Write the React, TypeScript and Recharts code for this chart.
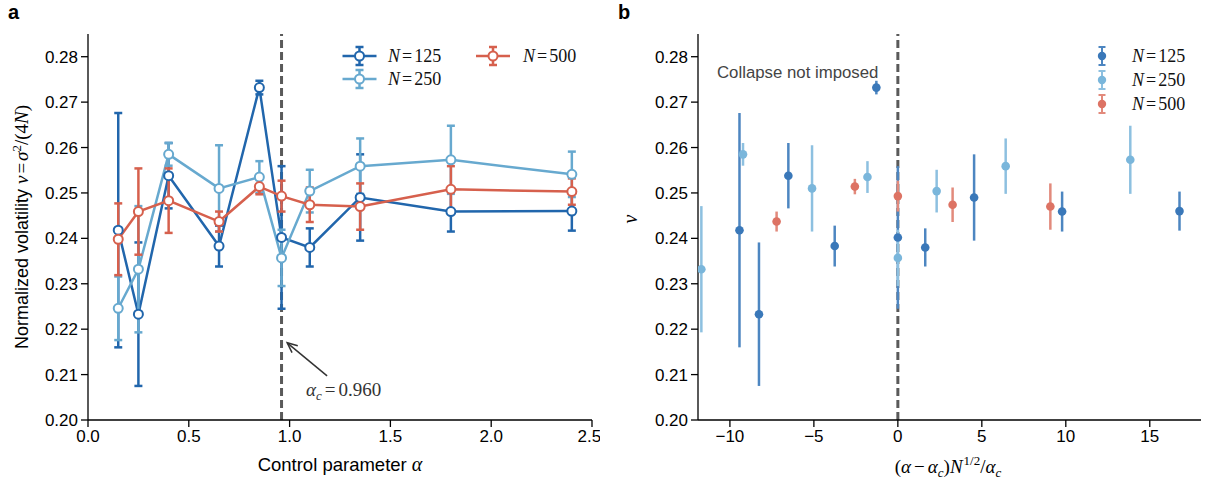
import React from 'react';
import {
  ComposedChart,
  ScatterChart,
  Line,
  Scatter,
  XAxis,
  YAxis,
  ErrorBar,
  ReferenceLine,
  Legend,
  Label,
} from 'recharts';

// ---------- data ----------
const alphaValues = [0.15, 0.25, 0.4, 0.65, 0.85, 0.96, 1.1, 1.35, 1.8, 2.4];

const nu125 = [0.2418, 0.2233, 0.2538, 0.2383, 0.2732, 0.2402, 0.238, 0.249, 0.2459, 0.246];
const err125 = [0.0258, 0.0158, 0.0072, 0.0045, 0.0015, 0.0157, 0.0042, 0.0095, 0.0044, 0.0043];

const nu250 = [0.2246, 0.2332, 0.2585, 0.251, 0.2535, 0.2357, 0.2504, 0.2559, 0.2573, 0.2541];
const err250 = [0.007, 0.0139, 0.0025, 0.0095, 0.0035, 0.0062, 0.0047, 0.0061, 0.0075, 0.005];

const nu500 = [0.2398, 0.2459, 0.2483, 0.2437, 0.2514, 0.2493, 0.2474, 0.247, 0.2508, 0.2503];
const err500 = [0.0079, 0.0095, 0.0071, 0.0022, 0.0017, 0.0034, 0.0038, 0.0051, 0.0051, 0.0029];

// collapse panel: scaled x positions and which alpha indices are visible
const collapseX125 = [-9.43, -8.27, -6.52, -3.76, -1.28, 0, 1.63, 4.54, 9.78, 16.77];
const collapseIdx125 = [0, 1, 2, 3, 4, 5, 6, 7, 8, 9];
const collapseX250 = [-11.7, -9.22, -5.11, -1.81, 0, 2.31, 6.42, 13.84];
const collapseIdx250 = [1, 2, 3, 4, 5, 6, 7, 8];
const collapseX500 = [-7.22, -2.56, 0, 3.26, 9.08];
const collapseIdx500 = [3, 4, 5, 6, 7];

const leftXTicks = [0, 0.5, 1, 1.5, 2, 2.5];
const yTicks = [0.2, 0.21, 0.22, 0.23, 0.24, 0.25, 0.26, 0.27, 0.28];
const rightXTicks = [-10, -5, 0, 5, 10, 15];
const alphaC = 0.96;

// ---------- styles ----------
const SANS = '"Liberation Sans", Arial, Helvetica, sans-serif';
const SERIF = '"Liberation Serif", "Times New Roman", serif';
const C125 = '#2166ac';
const C250 = '#67a9cf';
const C500 = '#d6604d';
const D125 = '#3a78b9';
const D250 = '#7ab6db';
const D500 = '#dd7364';
const B125 = '#4d86c1';
const B250 = '#8dc0e0';
const B500 = '#e28a7c';
const DASH = '#5a5a5a';

const leftData = alphaValues.map((alpha, i) => ({
  alpha,
  n125: nu125[i],
  e125: err125[i],
  n250: nu250[i],
  e250: err250[i],
  n500: nu500[i],
  e500: err500[i],
}));

const buildCollapse = (xs: number[], idx: number[], ys: number[], es: number[]) =>
  xs.map((x, i) => ({ x, y: ys[idx[i]], e: es[idx[i]] }));

const collapse125 = buildCollapse(collapseX125, collapseIdx125, nu125, err125);
const collapse250 = buildCollapse(collapseX250, collapseIdx250, nu250, err250);
const collapse500 = buildCollapse(collapseX500, collapseIdx500, nu500, err500);

const tickStyle = { fontSize: 17, fill: '#000', fontFamily: SANS };
const axisLineStyle = { stroke: '#000', strokeWidth: 1.3 };

const fmtMinus = (v: number) => (v < 0 ? '\u2212' + Math.abs(v) : String(v));

const NLabel = ({ x, y, n }: { x: number; y: number; n: string }) => (
  <text x={x} y={y} fontFamily={SERIF} fontSize={18} fill="#111">
    <tspan fontStyle="italic">N</tspan>
    <tspan dx={2}>=</tspan>
    <tspan dx={2}>{n}</tspan>
  </text>
);

const LineMarker = ({ cx, cy, color }: { cx: number; cy: number; color: string }) => (
  <g>
    <line x1={cx - 17} y1={cy} x2={cx + 17} y2={cy} stroke={color} strokeWidth={2.5} />
    <line x1={cx} y1={cy - 9} x2={cx} y2={cy + 9} stroke={color} strokeWidth={2.5} />
    <line x1={cx - 4} y1={cy - 9} x2={cx + 4} y2={cy - 9} stroke={color} strokeWidth={2.5} />
    <line x1={cx - 4} y1={cy + 9} x2={cx + 4} y2={cy + 9} stroke={color} strokeWidth={2.5} />
    <circle cx={cx} cy={cy} r={4.5} fill="#fff" stroke={color} strokeWidth={2} />
  </g>
);

const LeftLegend = () => (
  <svg width={270} height={60} style={{ display: 'block' }}>
    <LineMarker cx={29.5} cy={18} color={C125} />
    <NLabel x={58} y={24} n="125" />
    <LineMarker cx={29.5} cy={41} color={C250} />
    <NLabel x={58} y={47} n="250" />
    <LineMarker cx={163} cy={18} color={C500} />
    <NLabel x={193} y={24} n="500" />
  </svg>
);

const DotMarker = ({ cx, cy, color, bar }: { cx: number; cy: number; color: string; bar: string }) => (
  <g>
    <line x1={cx} y1={cy - 9} x2={cx} y2={cy + 9} stroke={bar} strokeWidth={2} />
    <line x1={cx - 3.5} y1={cy - 9} x2={cx + 3.5} y2={cy - 9} stroke={bar} strokeWidth={2} />
    <line x1={cx - 3.5} y1={cy + 9} x2={cx + 3.5} y2={cy + 9} stroke={bar} strokeWidth={2} />
    <circle cx={cx} cy={cy} r={4.2} fill={color} />
  </g>
);

const RightLegend = () => (
  <svg width={110} height={80} style={{ display: 'block' }}>
    <DotMarker cx={12} cy={18} color={D125} bar={B125} />
    <NLabel x={42} y={24} n="125" />
    <DotMarker cx={12} cy={42} color={D250} bar={B250} />
    <NLabel x={42} y={48} n="250" />
    <DotMarker cx={12} cy={66} color={D500} bar={B500} />
    <NLabel x={42} y={72} n="500" />
  </svg>
);

const ArrowAnnotation = (props: any) => {
  const { x1, y1, x2, y2 } = props;
  if (x1 == null) return null;
  const ang = Math.atan2(y1 - y2, x1 - x2);
  const L = 11;
  const w = 0.42;
  const a1x = x1 - L * Math.cos(ang - w);
  const a1y = y1 - L * Math.sin(ang - w);
  const a2x = x1 - L * Math.cos(ang + w);
  const a2y = y1 - L * Math.sin(ang + w);
  return (
    <g>
      <line x1={x1} y1={y1} x2={x2} y2={y2} stroke="#333" strokeWidth={1.5} />
      <polyline points={`${a1x},${a1y} ${x1},${y1} ${a2x},${a2y}`} fill="none" stroke="#333" strokeWidth={1.5} />
      <text x={x2 - 21} y={y2 + 20} fontFamily={SERIF} fontSize={19} fill="#333">
        <tspan fontStyle="italic">α</tspan>
        <tspan fontStyle="italic" fontSize={13} dy={4}>c</tspan>
        <tspan dy={-4} dx={3}>=</tspan>
        <tspan dx={3}>{alphaC.toFixed(3)}</tspan>
      </text>
    </g>
  );
};

const ScatterDot = (color: string) => (props: any) =>
  props.cx == null ? null : <circle cx={props.cx} cy={props.cy} r={4.3} fill={color} />;

export default function App() {
  return (
    <div style={{ position: 'absolute', left: 0, top: 0, width: 1205, height: 480, background: '#fff' }}>
      {/* Panel a */}
      <div style={{ position: 'absolute', left: 0, top: 0 }}>
        <ComposedChart width={600} height={480} data={leftData} margin={{ top: 34, right: 8, bottom: 0, left: 0 }}>
          <XAxis
            type="number"
            dataKey="alpha"
            domain={[0, 2.5]}
            allowDataOverflow
            ticks={leftXTicks}
            tickFormatter={(v: number) => v.toFixed(1)}
            height={60}
            tick={tickStyle}
            axisLine={axisLineStyle}
            tickLine={axisLineStyle}
            tickSize={7}
            tickMargin={3}
          >
            <Label
              content={() => (
                <text x={340} y={471} textAnchor="middle" fontFamily={SANS} fontSize={18.5} fill="#000">
                  Control parameter{' '}
                  <tspan fontFamily={SERIF} fontStyle="italic" fontSize={20}>α</tspan>
                </text>
              )}
            />
          </XAxis>
          <YAxis
            type="number"
            domain={[0.2, 0.285]}
            allowDataOverflow
            ticks={yTicks}
            tickFormatter={(v: number) => v.toFixed(2)}
            width={88}
            tick={tickStyle}
            axisLine={axisLineStyle}
            tickLine={axisLineStyle}
            tickSize={7}
            tickMargin={3}
          >
            <Label
              content={() => (
                <text
                  x={28}
                  y={227}
                  textAnchor="middle"
                  transform="rotate(-90, 28, 227)"
                  fontFamily={SANS}
                  fontSize={18}
                  fill="#000"
                >
                  Normalized volatility{' '}
                  <tspan fontFamily={SERIF} fontStyle="italic" fontSize={19}>ν</tspan>
                  <tspan fontFamily={SERIF} fontSize={19} dx={2}>=</tspan>
                  <tspan fontFamily={SERIF} fontStyle="italic" fontSize={19} dx={2}>σ</tspan>
                  <tspan fontFamily={SERIF} fontSize={13} dy={-7}>2</tspan>
                  <tspan fontFamily={SERIF} fontSize={19} dy={7}>/(4</tspan>
                  <tspan fontFamily={SERIF} fontStyle="italic" fontSize={19}>N</tspan>
                  <tspan fontFamily={SERIF} fontSize={19}>)</tspan>
                </text>
              )}
            />
          </YAxis>
          <ReferenceLine x={alphaC} stroke={DASH} strokeWidth={3} strokeDasharray="8 4" />
          <Line
            type="linear"
            dataKey="n125"
            stroke={C125}
            strokeWidth={2.5}
            dot={{ r: 4.5, fill: '#fff', stroke: C125, strokeWidth: 2 }}
            activeDot={false}
            isAnimationActive={false}
          >
            <ErrorBar dataKey="e125" width={4} stroke={C125} strokeWidth={2.5} direction="y" />
          </Line>
          <Line
            type="linear"
            dataKey="n250"
            stroke={C250}
            strokeWidth={2.5}
            dot={{ r: 4.5, fill: '#fff', stroke: C250, strokeWidth: 2 }}
            activeDot={false}
            isAnimationActive={false}
          >
            <ErrorBar dataKey="e250" width={4} stroke={C250} strokeWidth={2.5} direction="y" />
          </Line>
          <Line
            type="linear"
            dataKey="n500"
            stroke={C500}
            strokeWidth={2.5}
            dot={{ r: 4.5, fill: '#fff', stroke: C500, strokeWidth: 2 }}
            activeDot={false}
            isAnimationActive={false}
          >
            <ErrorBar dataKey="e500" width={4} stroke={C500} strokeWidth={2.5} direction="y" />
          </Line>
          <ReferenceLine
            segment={[
              { x: 0.988, y: 0.217 },
              { x: 1.186, y: 0.2097 },
            ]}
            shape={ArrowAnnotation}
          />
          <Legend
            layout="horizontal"
            verticalAlign="middle"
            align="center"
            content={() => <LeftLegend />}
            wrapperStyle={{ left: 330, top: 38, width: 270, height: 60 }}
          />
        </ComposedChart>
      </div>

      {/* Panel b */}
      <div style={{ position: 'absolute', left: 600, top: 0 }}>
        <ScatterChart width={605} height={480} margin={{ top: 34, right: 4, bottom: 0, left: 0 }}>
          <XAxis
            type="number"
            dataKey="x"
            domain={[-11.9, 18.05]}
            allowDataOverflow
            ticks={rightXTicks}
            tickFormatter={fmtMinus}
            height={60}
            tick={tickStyle}
            axisLine={axisLineStyle}
            tickLine={axisLineStyle}
            tickSize={7}
            tickMargin={3}
          >
            <Label
              content={() => (
                <text x={348} y={473} textAnchor="middle" fontFamily={SERIF} fontSize={19} fill="#000">
                  (<tspan fontStyle="italic">α</tspan>
                  <tspan dx={3}>−</tspan>
                  <tspan dx={3} fontStyle="italic">α</tspan>
                  <tspan fontStyle="italic" fontSize={13} dy={4}>c</tspan>
                  <tspan dy={-4}>)</tspan>
                  <tspan fontStyle="italic">N</tspan>
                  <tspan fontSize={13} dy={-8} dx={1}>1/2</tspan>
                  <tspan dy={8}>/</tspan>
                  <tspan fontStyle="italic">α</tspan>
                  <tspan fontStyle="italic" fontSize={13} dy={4}>c</tspan>
                </text>
              )}
            />
          </XAxis>
          <YAxis
            type="number"
            dataKey="y"
            domain={[0.2, 0.285]}
            allowDataOverflow
            ticks={yTicks}
            tickFormatter={(v: number) => v.toFixed(2)}
            width={98}
            tick={tickStyle}
            axisLine={axisLineStyle}
            tickLine={axisLineStyle}
            tickSize={7}
            tickMargin={3}
          >
            <Label
              content={() => (
                <text
                  x={37}
                  y={219}
                  textAnchor="middle"
                  transform="rotate(-90, 37, 219)"
                  fontFamily={SERIF}
                  fontStyle="italic"
                  fontSize={20}
                  fill="#000"
                >
                  ν
                </text>
              )}
            />
          </YAxis>
          <ReferenceLine x={0} stroke={DASH} strokeWidth={3} strokeDasharray="8 4" />
          <Scatter data={collapse125} shape={ScatterDot(D125)} isAnimationActive={false}>
            <ErrorBar dataKey="e" direction="y" width={0} stroke={B125} strokeWidth={2.5} />
          </Scatter>
          <Scatter data={collapse250} shape={ScatterDot(D250)} isAnimationActive={false}>
            <ErrorBar dataKey="e" direction="y" width={0} stroke={B250} strokeWidth={2.5} />
          </Scatter>
          <Scatter data={collapse500} shape={ScatterDot(D500)} isAnimationActive={false}>
            <ErrorBar dataKey="e" direction="y" width={0} stroke={B500} strokeWidth={2.5} />
          </Scatter>
          <Legend
            layout="horizontal"
            verticalAlign="middle"
            align="center"
            content={() => <RightLegend />}
            wrapperStyle={{ left: 490, top: 38, width: 110, height: 80 }}
          />
        </ScatterChart>
      </div>

      {/* Panel letters and annotation */}
      <svg
        width={1205}
        height={480}
        style={{ position: 'absolute', left: 0, top: 0, pointerEvents: 'none' }}
      >
        <text x={8} y={19} fontFamily={SANS} fontWeight="bold" fontSize={20} fill="#000">
          a
        </text>
        <text x={618} y={19} fontFamily={SANS} fontWeight="bold" fontSize={20} fill="#000">
          b
        </text>
        <text x={717} y={78} fontFamily={SANS} fontSize={16.8} fill="#444">
          Collapse not imposed
        </text>
      </svg>
    </div>
  );
}
